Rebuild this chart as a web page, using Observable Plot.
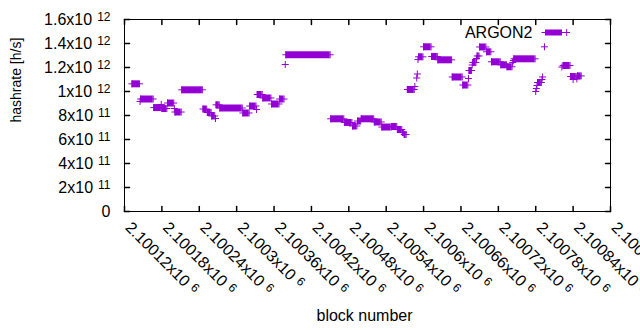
<!DOCTYPE html>
<html>
<head>
<meta charset="utf-8">
<script src="https://cdn.jsdelivr.net/npm/d3@7"></script>
<script src="https://cdn.jsdelivr.net/npm/@observablehq/plot@0.6"></script>
<style>
  html, body { margin: 0; padding: 0; background: #fff; }
  #chart { width: 640px; height: 330px; overflow: hidden; }
</style>
</head>
<body>
<div id="chart"></div>
<script>
// ---- data ----
const seriesName = "ARGON2";

// runs of consecutive blocks with the same hashrate
const runStart = [2100132, 2100146, 2100167, 2100180, 2100189, 2100201, 2100212, 2100246, 2100253, 2100260,
  2100267, 2100273, 2100310, 2100321, 2100333, 2100342, 2100356, 2100369, 2100379, 2100451,
  2100473, 2100486, 2100494, 2100500, 2100521, 2100533, 2100549, 2100558, 2100566, 2100569,
  2100574, 2100592, 2100600, 2100613, 2100623, 2100646, 2100663, 2100673, 2100679, 2100686,
  2100690, 2100701, 2100709, 2100724, 2100734, 2100745, 2100783, 2100824, 2100836, 2100841, 2100847];
const runEnd = [2100144, 2100166, 2100178, 2100188, 2100199, 2100211, 2100245, 2100252, 2100259, 2100265,
  2100272, 2100309, 2100320, 2100331, 2100341, 2100355, 2100368, 2100376, 2100450, 2100472,
  2100485, 2100493, 2100499, 2100520, 2100532, 2100548, 2100557, 2100565, 2100568, 2100572,
  2100585, 2100599, 2100612, 2100622, 2100645, 2100662, 2100671, 2100677, 2100684, 2100689,
  2100700, 2100708, 2100723, 2100733, 2100742, 2100779, 2100789, 2100835, 2100839, 2100845, 2100853];
const runValue = [1.064e12, 0.9375e12, 0.866e12, 0.858e12, 0.904e12, 0.829e12, 1.014e12, 0.854e12, 0.825e12, 0.796e12,
  0.889e12, 0.8625e12, 0.821e12, 0.879e12, 0.975e12, 0.946e12, 0.896e12, 0.9375e12, 1.306e12, 0.7725e12,
  0.742e12, 0.7125e12, 0.754e12, 0.7725e12, 0.746e12, 0.704e12, 0.708e12, 0.683e12, 0.658e12, 0.642e12,
  1.017e12, 1.289e12, 1.3725e12, 1.292e12, 1.264e12, 1.121e12, 1.054e12, 1.175e12, 1.242e12, 1.296e12,
  1.371e12, 1.331e12, 1.2475e12, 1.2225e12, 1.206e12, 1.2725e12, 1.075e12, 1.217e12, 1.125e12, 1.125e12, 1.130e12];

// single blocks
const ptBlock = [2100145, 2100179, 2100200, 2100266, 2100332, 2100378, 2100586, 2100589, 2100590, 2100591,
  2100672, 2100678, 2100685, 2100743, 2100744, 2100780, 2100781, 2100782, 2100790, 2100791,
  2100794, 2100822, 2100840, 2100846];
const ptValue = [0.917e12, 0.892e12, 0.858e12, 0.775e12, 0.850e12, 1.225e12, 1.042e12, 1.1125e12, 1.146e12, 1.267e12,
  1.108e12, 1.221e12, 1.275e12, 1.242e12, 1.258e12, 1.000e12, 1.025e12, 1.050e12, 1.100e12, 1.121e12,
  1.3725e12, 1.204e12, 1.100e12, 1.105e12];

const xTicks = [2100120, 2100180, 2100240, 2100300, 2100360, 2100420, 2100480, 2100540, 2100600, 2100660, 2100720, 2100780, 2100840, 2100900];
const xTickLabels = ["2.10012x10^6", "2.10018x10^6", "2.10024x10^6", "2.1003x10^6", "2.10036x10^6", "2.10042x10^6", "2.10048x10^6",
  "2.10054x10^6", "2.1006x10^6", "2.10066x10^6", "2.10072x10^6", "2.10078x10^6", "2.10084x10^6", "2.1009x10^6"];
const yTicks = [0, 0.2e12, 0.4e12, 0.6e12, 0.8e12, 1.0e12, 1.2e12, 1.4e12, 1.6e12];
const yTickLabels = ["0", "2x10^11", "4x10^11", "6x10^11", "8x10^11", "1x10^12", "1.2x10^12", "1.4x10^12", "1.6x10^12"];
const xTitle = "block number";
const yTitle = "hashrate [h/s]";

// ---- build tables ----
const color = "#9400d3";
const runs = runStart.map((s, i) => ({start: s, end: runEnd[i], value: runValue[i]}));
const runEnds = runs.flatMap(r => [{block: r.start, value: r.value}, {block: r.end, value: r.value}]);
const pts = ptBlock.map((b, i) => ({block: b, value: ptValue[i]}));

const plusSymbol = {draw(ctx) { const r = 3.5; ctx.moveTo(-r, 0); ctx.lineTo(r, 0); ctx.moveTo(0, -r); ctx.lineTo(0, r); }};
const tickShape = {draw(ctx, l) { ctx.moveTo(0, 0); ctx.lineTo(0, -l); }};

function legendSample(index, scales, values, dims) {
  const xr = dims.width - dims.marginRight;
  const y = dims.marginTop + 13.5;
  const g = d3.create("svg:g").attr("fill", "none").attr("stroke", color);
  g.append("line").attr("x1", xr - 68.5).attr("x2", xr - 40).attr("y1", y).attr("y2", y).attr("stroke-width", 1);
  g.append("line").attr("x1", xr - 65).attr("x2", xr - 48).attr("y1", y).attr("y2", y).attr("stroke-width", 6);
  g.append("line").attr("x1", xr - 43.3).attr("x2", xr - 43.3).attr("y1", y - 3.5).attr("y2", y + 3.5).attr("stroke-width", 1);
  return g.node();
}

const font = "Liberation Sans, Arial, sans-serif";

const svg = Plot.plot({
  width: 640,
  height: 330,
  marginLeft: 124,
  marginRight: 30,
  marginTop: 19,
  marginBottom: 119,
  style: {fontFamily: font, fontSize: "16px", background: "#fff", color: "#000"},
  x: {domain: [2100120, 2100900], axis: null},
  y: {domain: [0, 1.6e12], axis: null},
  marks: [
    Plot.ruleY(runs, {y: "value", x1: "start", x2: "end", stroke: color, strokeWidth: 7}),
    Plot.dot(runEnds, {x: "block", y: "value", symbol: plusSymbol, fill: "none", stroke: color, strokeWidth: 1, r: 4}),
    Plot.dot(pts, {x: "block", y: "value", symbol: plusSymbol, fill: "none", stroke: color, strokeWidth: 1, r: 4}),
    Plot.frame({stroke: "#000"}),
    Plot.vector(yTicks, {y: d => d, frameAnchor: "left", rotate: 90, length: 5, anchor: "start", shape: tickShape, stroke: "#000"}),
    Plot.vector(yTicks, {y: d => d, frameAnchor: "right", rotate: -90, length: 5, anchor: "start", shape: tickShape, stroke: "#000"}),
    Plot.vector(xTicks, {x: d => d, frameAnchor: "bottom", rotate: 0, length: 5, anchor: "start", shape: tickShape, stroke: "#000"}),
    Plot.vector(xTicks, {x: d => d, frameAnchor: "top", rotate: 180, length: 5, anchor: "start", shape: tickShape, stroke: "#000"}),
    Plot.text(yTicks, {y: d => d, text: (d, i) => yTickLabels[i], frameAnchor: "left", textAnchor: "end", dx: -14, fontSize: 16, fill: "#000"}),
    Plot.text(xTicks, {x: d => d, text: (d, i) => xTickLabels[i], frameAnchor: "bottom", textAnchor: "start", lineAnchor: "bottom", rotate: 45, dy: 17, dx: 0, fontSize: 16, fill: "#000"}),
    Plot.text([xTitle], {frameAnchor: "bottom", lineAnchor: "bottom", dy: 109, dx: -3, fontSize: 16, fill: "#000"}),
    Plot.text([yTitle], {frameAnchor: "left", rotate: -90, dx: -108, dy: 7, fontSize: 14, fill: "#000"}),
    Plot.text([seriesName], {frameAnchor: "top-right", textAnchor: "end", lineAnchor: "bottom", dx: -78, dy: 18, fontSize: 16, fill: "#000"}),
    legendSample
  ]
});

// superscript exponents
const NS = "http://www.w3.org/2000/svg";
svg.querySelectorAll("text").forEach(t => {
  const s = t.textContent;
  if (!s.includes("^")) return;
  const [base, exp] = s.split("^");
  t.textContent = "";
  const a = document.createElementNS(NS, "tspan");
  a.textContent = base;
  t.appendChild(a);
  const b = document.createElementNS(NS, "tspan");
  b.textContent = exp;
  b.setAttribute("dx", "5");
  b.setAttribute("dy", "-4");
  b.setAttribute("font-size", "12");
  t.appendChild(b);
});

document.getElementById("chart").appendChild(svg);
</script>
</body>
</html>
